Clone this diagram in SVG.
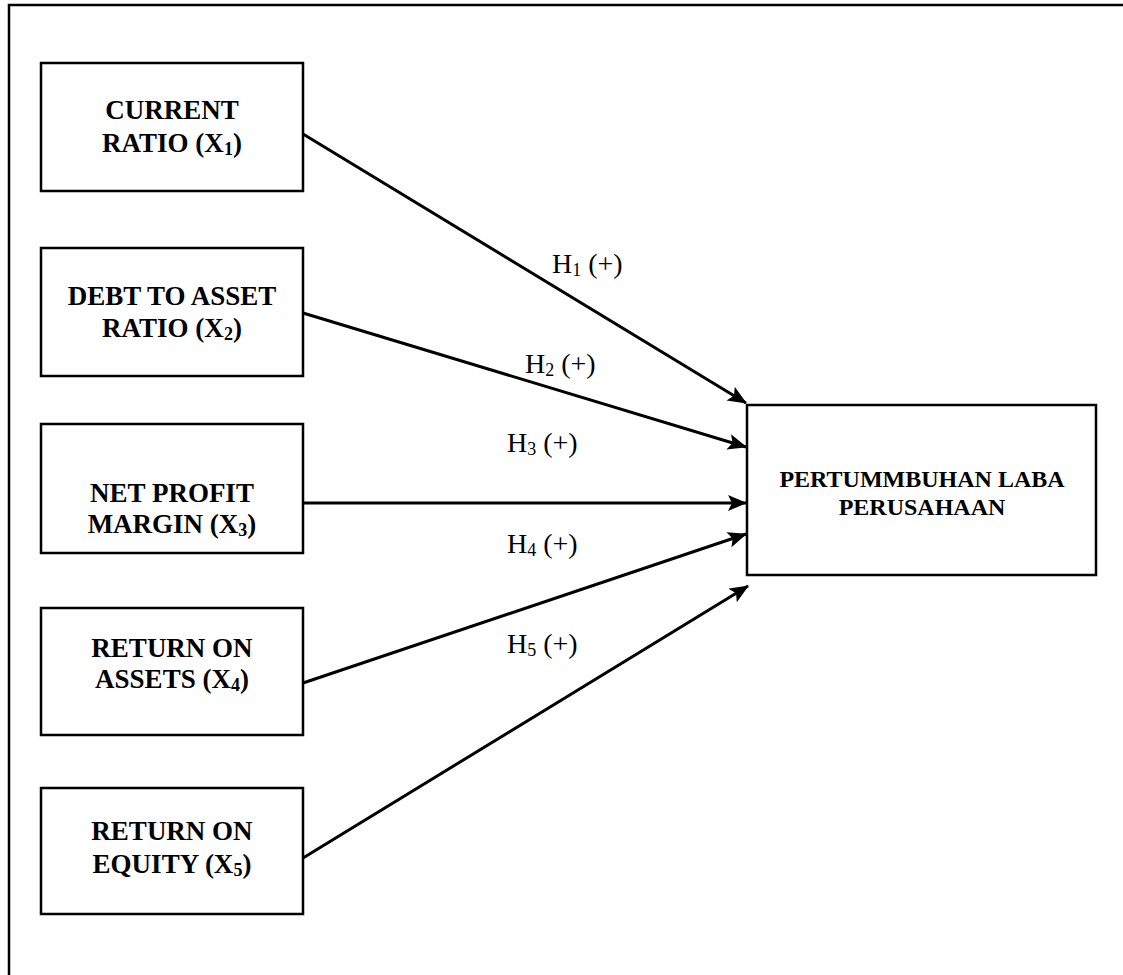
<svg xmlns="http://www.w3.org/2000/svg" width="1123" height="975" viewBox="0 0 1123 975">
<style>
.box{fill:#fff;stroke:#000;stroke-width:2.5}
.nt{font-family:"Liberation Serif","Times New Roman",serif;font-weight:bold;font-size:27px;text-anchor:middle;fill:#000}
.tt{font-family:"Liberation Serif","Times New Roman",serif;font-weight:bold;font-size:24px;text-anchor:middle;fill:#000}
.lb{font-family:"Liberation Serif","Times New Roman",serif;font-size:28px;fill:#000}
.sub{font-size:18px}
.ln{stroke:#000;stroke-width:3;fill:none}
</style>
<defs>
<marker id="ah" markerUnits="userSpaceOnUse" markerWidth="22" markerHeight="18" refX="18" refY="8" orient="auto">
<path d="M0,0 L19,8 L0,16 L4,8 z" fill="#000"/>
</marker>
</defs>
<rect x="9" y="5" width="1140" height="1000" fill="none" stroke="#000" stroke-width="2.5"/>
<g id="connectors">
<line class="ln" x1="303" y1="134" x2="746" y2="403" marker-end="url(#ah)"/>
<line class="ln" x1="303" y1="313" x2="746" y2="447" marker-end="url(#ah)"/>
<line class="ln" x1="303" y1="503" x2="746" y2="503" marker-end="url(#ah)"/>
<line class="ln" x1="303" y1="683" x2="746" y2="534" marker-end="url(#ah)"/>
<line class="ln" x1="303" y1="858" x2="748" y2="586" marker-end="url(#ah)"/>
<text class="lb" x="552" y="273">H<tspan class="sub" dy="3">1</tspan><tspan dy="-3"> (+)</tspan></text>
<text class="lb" x="525" y="373">H<tspan class="sub" dy="3">2</tspan><tspan dy="-3"> (+)</tspan></text>
<text class="lb" x="507" y="452">H<tspan class="sub" dy="3">3</tspan><tspan dy="-3"> (+)</tspan></text>
<text class="lb" x="507" y="553">H<tspan class="sub" dy="3">4</tspan><tspan dy="-3"> (+)</tspan></text>
<text class="lb" x="507" y="653">H<tspan class="sub" dy="3">5</tspan><tspan dy="-3"> (+)</tspan></text>
</g>
<g id="x1">
<rect class="box" x="41" y="63" width="262" height="128"/>
<text class="nt" x="172" y="119">CURRENT</text>
<text class="nt" x="172" y="152">RATIO (X<tspan class="sub" dy="3">1</tspan><tspan dy="-3">)</tspan></text>
</g>
<g id="x2">
<rect class="box" x="41" y="248" width="262" height="128"/>
<text class="nt" x="172" y="305">DEBT TO ASSET</text>
<text class="nt" x="172" y="337">RATIO (X<tspan class="sub" dy="3">2</tspan><tspan dy="-3">)</tspan></text>
</g>
<g id="x3">
<rect class="box" x="41" y="424" width="262" height="129"/>
<text class="nt" x="172" y="502">NET PROFIT</text>
<text class="nt" x="172" y="533">MARGIN (X<tspan class="sub" dy="3">3</tspan><tspan dy="-3">)</tspan></text>
</g>
<g id="x4">
<rect class="box" x="41" y="608" width="262" height="127"/>
<text class="nt" x="172" y="657">RETURN ON</text>
<text class="nt" x="172" y="688">ASSETS (X<tspan class="sub" dy="3">4</tspan><tspan dy="-3">)</tspan></text>
</g>
<g id="x5">
<rect class="box" x="41" y="788" width="262" height="126"/>
<text class="nt" x="172" y="840">RETURN ON</text>
<text class="nt" x="172" y="873">EQUITY (X<tspan class="sub" dy="3">5</tspan><tspan dy="-3">)</tspan></text>
</g>
<g id="y">
<rect class="box" x="747" y="405" width="349" height="170"/>
<text class="tt" x="922" y="487">PERTUMMBUHAN LABA</text>
<text class="tt" x="922" y="515">PERUSAHAAN</text>
</g>
</svg>
